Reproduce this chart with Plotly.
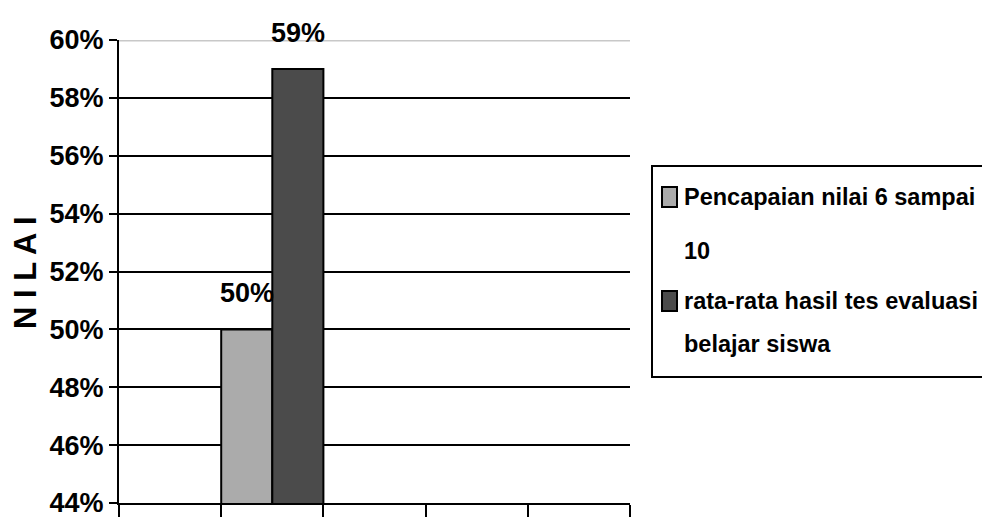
import plotly.graph_objects as go

# Series shown as side-by-side bars in the second slot of a five-slot axis
series_names = ["Pencapaian nilai 6 sampai 10", "rata-rata hasil tes evaluasi belajar siswa"]
legend_lines = [["Pencapaian nilai 6 sampai", "10"], ["rata-rata hasil tes evaluasi", "belajar siswa"]]
series_values = [0.50, 0.59]
series_colors = ["#ababab", "#4b4b4b"]
y_ticks = [0.44, 0.46, 0.48, 0.50, 0.52, 0.54, 0.56, 0.58, 0.60]
x_slots = [0, 1, 2, 3, 4, 5]
y_title = "N I L A I"
group_center = 1.5
group_width = 1.0

FONT = "Liberation Sans, Arial, sans-serif"

W, H = 982, 518
L, R, T, B = 119, 352, 40, 15
pw, ph = W - L - R, H - T - B


def px_x(px):
    return (px - L) / pw


def px_y(py):
    return (H - B - py) / ph


def bold(size):
    return dict(family=FONT, size=size, color="#000000", weight="bold")


fig = go.Figure()
n = len(series_values)
bw = group_width / n
for i, (name, val, col) in enumerate(zip(series_names, series_values, series_colors)):
    fig.add_trace(go.Bar(
        x=[group_center], y=[val], name=name,
        width=bw, offset=-group_width / 2 + i * bw,
        marker=dict(color=col, line=dict(color="#000000", width=2)),
        showlegend=False, hoverinfo="skip",
    ))
    fig.add_annotation(
        x=group_center - group_width / 2 + (i + 0.5) * bw, y=val,
        text="%d%%" % round(val * 100), showarrow=False,
        yanchor="bottom", yshift=19, font=bold(27),
    )

# vertical axis title
fig.add_annotation(xref="paper", yref="paper", x=px_x(25), y=px_y(273),
                   text=y_title, textangle=-90, showarrow=False,
                   xanchor="center", yanchor="middle", font=bold(31))

# top border of the plot area
fig.add_shape(type="line", xref="paper", x0=0, x1=1, yref="y", y0=0.60, y1=0.60,
              line=dict(color="#c8c8c8", width=3), layer="above")

# legend box drawn by hand so each entry wraps over two spaced lines
fig.add_shape(type="rect", xref="paper", yref="paper",
              x0=px_x(652), x1=px_x(996), y0=px_y(377), y1=px_y(166),
              line=dict(color="#000000", width=2), fillcolor="#ffffff", layer="above")
swatch_rows = [(187, 207), (291, 311)]
line_centers = [[197, 251], [301, 344]]
for i, col in enumerate(series_colors):
    top, bottom = swatch_rows[i]
    fig.add_shape(type="rect", xref="paper", yref="paper",
                  x0=px_x(662), x1=px_x(677), y0=px_y(bottom), y1=px_y(top),
                  line=dict(color="#000000", width=2), fillcolor=col, layer="above")
    for j, txt in enumerate(legend_lines[i]):
        fig.add_annotation(xref="paper", yref="paper", x=px_x(682), y=px_y(line_centers[i][j]),
                           xanchor="left", yanchor="middle", text=txt, showarrow=False,
                           font=bold(23.5))

fig.update_layout(
    width=W, height=H,
    margin=dict(l=L, r=R, t=T, b=B),
    paper_bgcolor="#ffffff", plot_bgcolor="#ffffff",
    font=dict(family=FONT, color="#000000"),
    barmode="overlay",
    xaxis=dict(range=[0, 5], tickvals=x_slots, showticklabels=False, ticks="outside",
               ticklen=12, tickwidth=2, tickcolor="#000000", showline=True,
               linecolor="#000000", linewidth=2, showgrid=False, zeroline=False,
               automargin=False, fixedrange=True),
    yaxis=dict(range=[0.44, 0.60], tickvals=y_ticks, tickformat=".0%", ticks="outside",
               ticklen=8, tickwidth=2, tickcolor="#000000", showline=True,
               linecolor="#000000", linewidth=2, showgrid=True, gridcolor="#000000",
               gridwidth=2, zeroline=False, automargin=False,
               ticklabeloverflow="allow",
               tickfont=bold(27)),
)

fig.write_html("out.html")
